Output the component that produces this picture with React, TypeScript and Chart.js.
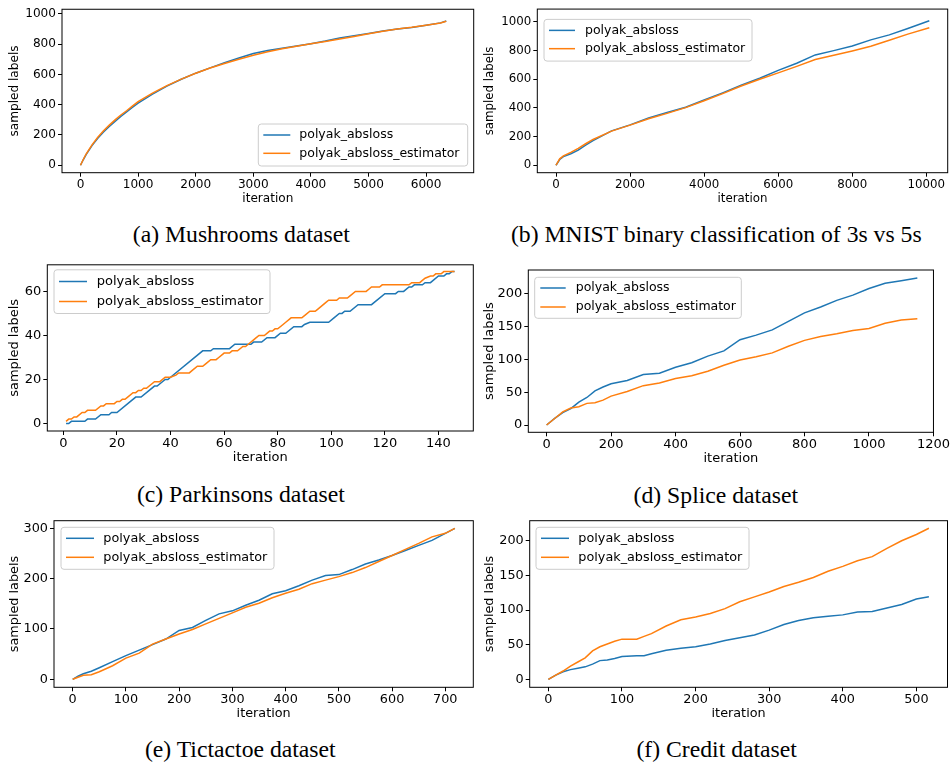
import React, { useEffect, useRef } from "react";
import { Chart, registerables } from "chart.js";
Chart.register(...registerables);
Chart.defaults.font.family = "'DejaVu Sans', sans-serif";
Chart.defaults.color = "#000";

const SERIES_NAMES = ["polyak_absloss", "polyak_absloss_estimator"];
const COLORS = ["#1f77b4", "#ff7f0e"];

// (a) Mushrooms
const mushX = [0, 50, 100, 200, 300, 400, 500, 600, 700, 800, 900, 1000, 1250, 1500, 1750, 2000, 2250, 2500, 2750, 3000, 3250, 3500, 3750, 4000, 4250, 4500, 4750, 5000, 5250, 5500, 5750, 6000, 6250, 6350];
const mushBlue = [0, 38, 72, 130, 178, 220, 256, 290, 322, 352, 382, 410, 470, 523, 568, 608, 643, 677, 708, 738, 758, 773, 788, 803, 820, 840, 856, 870, 886, 900, 910, 924, 940, 952];
const mushOrange = [0, 40, 76, 135, 185, 228, 265, 300, 332, 360, 390, 420, 476, 526, 569, 608, 642, 672, 700, 727, 750, 770, 786, 802, 817, 834, 850, 868, 885, 900, 911, 925, 940, 951];
const mushXTicks = [0, 1000, 2000, 3000, 4000, 5000, 6000];
const mushYTicks = [0, 200, 400, 600, 800, 1000];

// (b) MNIST
const mnistX = [0, 100, 200, 400, 600, 800, 1000, 1500, 2000, 2500, 3000, 3500, 4000, 4500, 5000, 5500, 6000, 6500, 7000, 7500, 8000, 8500, 9000, 9500, 10080];
const mnistBlue = [0, 40, 60, 80, 105, 140, 172, 240, 282, 330, 368, 405, 455, 505, 558, 607, 662, 712, 770, 800, 832, 875, 910, 955, 1008];
const mnistOrange = [0, 45, 65, 90, 118, 150, 180, 238, 280, 325, 362, 402, 450, 500, 553, 600, 645, 690, 738, 768, 798, 830, 872, 915, 960];
const mnistXTicks = [0, 2000, 4000, 6000, 8000, 10000];
const mnistYTicks = [0, 200, 400, 600, 800, 1000];

// (c) Parkinsons
const parkBlueX = [1, 2, 3, 8, 9, 12, 14, 17, 18, 20, 27, 29, 34, 35, 38, 39, 40, 52, 55, 56, 62, 64, 70, 71, 74, 76, 79, 81, 83, 86, 89, 90, 92, 99, 101, 103, 104, 105, 107, 110, 115, 120, 124, 125, 127, 129, 130, 131, 134, 135, 137, 140, 142, 143, 144, 145, 146];
const parkBlueY = [0, 0, 1, 1, 2, 2, 4, 4, 5, 5, 12, 12, 17, 17, 20, 20, 21, 33, 33, 34, 34, 36, 36, 37, 37, 39, 39, 41, 41, 44, 44, 45, 46, 46, 48, 50, 50, 51, 51, 54, 54, 59, 59, 60, 60, 62, 62, 63, 63, 64, 64, 67, 67, 68, 68, 69, 69];
const parkOrangeX = [1, 2, 3, 4, 5, 7, 8, 9, 12, 14, 15, 16, 19, 20, 21, 22, 23, 24, 26, 27, 28, 29, 30, 31, 34, 36, 38, 40, 42, 43, 47, 48, 50, 52, 53, 55, 57, 58, 60, 62, 63, 65, 67, 68, 69, 71, 72, 73, 75, 77, 78, 79, 80, 82, 83, 85, 89, 90, 92, 94, 95, 96, 98, 99, 102, 103, 106, 107, 109, 113, 114, 115, 118, 119, 129, 130, 133, 134, 135, 137, 138, 139, 141, 142, 146];
const parkOrangeY = [1, 2, 2, 3, 3, 5, 5, 6, 6, 8, 8, 9, 9, 10, 10, 11, 11, 12, 14, 14, 15, 15, 16, 16, 19, 19, 21, 21, 22, 23, 23, 24, 26, 26, 27, 29, 29, 30, 32, 32, 33, 33, 35, 35, 36, 38, 39, 40, 40, 42, 42, 43, 43, 45, 46, 48, 48, 49, 51, 51, 52, 53, 55, 56, 56, 57, 57, 58, 60, 60, 61, 62, 62, 63, 63, 64, 64, 65, 66, 67, 67, 68, 68, 69, 69];
const parkXTicks = [0, 20, 40, 60, 80, 100, 120, 140];
const parkYTicks = [0, 20, 40, 60];

// (d) Splice
const spliceX = [0, 25, 50, 75, 100, 125, 150, 175, 200, 250, 300, 350, 400, 450, 500, 550, 600, 650, 700, 750, 800, 850, 900, 950, 1000, 1050, 1100, 1150];
const spliceBlue = [0, 10, 19, 25, 35, 42, 52, 58, 63, 68, 77, 79, 88, 95, 105, 113, 130, 137, 145, 158, 171, 180, 190, 198, 208, 216, 220, 224];
const spliceOrange = [0, 10, 20, 26, 28, 33, 34, 38, 44, 51, 60, 64, 71, 75, 82, 91, 99, 104, 110, 120, 129, 135, 139, 144, 147, 155, 160, 162];
const spliceXTicks = [0, 200, 400, 600, 800, 1000, 1200];
const spliceYTicks = [0, 50, 100, 150, 200];

// (e) Tictactoe
const tttX = [0, 10, 20, 35, 50, 75, 100, 125, 150, 175, 200, 225, 250, 275, 300, 325, 350, 375, 400, 425, 450, 475, 500, 525, 550, 575, 600, 625, 650, 675, 700, 718];
const tttBlue = [0, 6, 11, 16, 23, 35, 47, 58, 69, 80, 97, 103, 117, 130, 136, 147, 157, 170, 176, 186, 197, 206, 208, 218, 229, 237, 246, 256, 266, 276, 290, 300];
const tttOrange = [0, 4, 8, 9, 15, 27, 42, 52, 70, 80, 90, 99, 110, 121, 132, 143, 151, 162, 171, 179, 190, 197, 204, 212, 222, 234, 246, 258, 270, 283, 290, 300];
const tttXTicks = [0, 100, 200, 300, 400, 500, 600, 700];
const tttYTicks = [0, 100, 200, 300];

// (f) Credit
const creditX = [0, 10, 20, 30, 40, 50, 60, 70, 80, 90, 100, 120, 130, 140, 160, 180, 200, 220, 240, 260, 280, 300, 320, 340, 360, 380, 400, 420, 440, 460, 480, 500, 517];
const creditBlue = [0, 6, 11, 14, 16, 18, 22, 27, 28, 30, 33, 34, 34, 37, 42, 45, 47, 51, 56, 60, 64, 71, 79, 85, 89, 91, 93, 97, 98, 103, 108, 116, 119];
const creditOrange = [0, 6, 12, 19, 25, 31, 41, 47, 51, 55, 58, 58, 62, 66, 77, 86, 90, 95, 102, 112, 119, 126, 134, 140, 147, 156, 163, 171, 177, 189, 200, 209, 218];
const creditXTicks = [0, 100, 200, 300, 400, 500];
const creditYTicks = [0, 50, 100, 150, 200];

const CAPTION_SIZE = 23.7;

type Panel = {
  caption: string;
  capX: number;
  capY: number;
  series: { x: number[]; y: number[] }[];
  xTicks: number[];
  yTicks: number[];
  xRange: [number, number];
  yRange: [number, number];
  canvas: { x: number; y: number; w: number; h: number };
  plot: { l: number; t: number; r: number; b: number };
  xTitleY: number;
  yTitleX: number;
  font: number;
  legendFont: number;
  legend: { loc: string; gx: number; gy: number; w: number; h: number; rows: number[]; l0: number; l1: number; tx: number };
};

const PANELS: Panel[] = [
  {
    caption: "(a) Mushrooms dataset", capX: 241.3, capY: 237.3,
    series: [{ x: mushX, y: mushBlue }, { x: mushX, y: mushOrange }],
    xTicks: mushXTicks, yTicks: mushYTicks, xRange: [-321, 6826], yRange: [-49, 1030],
    canvas: { x: 0, y: 0, w: 475, h: 212 }, plot: { l: 62, t: 4.7, r: 473.7, b: 172.7 },
    xTitleY: 199, yTitleX: 15, font: 12.1, legendFont: 12.5,
    legend: { loc: "lr", gx: 6, gy: 6.7, w: 209.4, h: 42, rows: [11, 29.3], l0: 5, l1: 32, tx: 41 },
  },
  {
    caption: "(b) MNIST binary classification of 3s vs 5s", capX: 716.3, capY: 237.3,
    series: [{ x: mnistX, y: mnistBlue }, { x: mnistX, y: mnistOrange }],
    xTicks: mnistXTicks, yTicks: mnistYTicks, xRange: [-505, 10577], yRange: [-52, 1090],
    canvas: { x: 475, y: 0, w: 476, h: 212 }, plot: { l: 537.3, t: 4.7, r: 947.7, b: 172.7 },
    xTitleY: 199, yTitleX: 490, font: 11.8, legendFont: 12.5,
    legend: { loc: "ul", gx: 6.7, gy: 10.3, w: 208, h: 41.7, rows: [11, 29.3], l0: 5, l1: 31, tx: 41 },
  },
  {
    caption: "(c) Parkinsons dataset", capX: 240.8, capY: 497.3,
    series: [{ x: parkBlueX, y: parkBlueY }, { x: parkOrangeX, y: parkOrangeY }],
    xTicks: parkXTicks, yTicks: parkYTicks, xRange: [-6, 153], yRange: [-3.4, 72.1],
    canvas: { x: 0, y: 255, w: 475, h: 215 }, plot: { l: 47.3, t: 262.3, r: 473.3, b: 431 },
    xTitleY: 457.3, yTitleX: 15, font: 13, legendFont: 13,
    legend: { loc: "ul", gx: 6.7, gy: 5, w: 216, h: 43.7, rows: [11.7, 31.7], l0: 5, l1: 33, tx: 42.7 },
  },
  {
    caption: "(d) Splice dataset", capX: 715.8, capY: 498,
    series: [{ x: spliceX, y: spliceBlue }, { x: spliceX, y: spliceOrange }],
    xTicks: spliceXTicks, yTicks: spliceYTicks, xRange: [-56.8, 1200], yRange: [-11.1, 236.3],
    canvas: { x: 475, y: 255, w: 476, h: 215 }, plot: { l: 528.3, t: 270, r: 935.5, b: 432.3 },
    xTitleY: 458.3, yTitleX: 490, font: 13, legendFont: 12.5,
    legend: { loc: "ul", gx: 6.4, gy: 7.3, w: 206.6, h: 41, rows: [10.7, 29.7], l0: 5.6, l1: 31, tx: 41 },
  },
  {
    caption: "(e) Tictactoe dataset", capX: 240.3, capY: 752.3,
    series: [{ x: tttX, y: tttBlue }, { x: tttX, y: tttOrange }],
    xTicks: tttXTicks, yTicks: tttYTicks, xRange: [-35.1, 752.6], yRange: [-15.9, 315.1],
    canvas: { x: 0, y: 510, w: 475, h: 215 }, plot: { l: 54, t: 520.7, r: 473.3, b: 687.3 },
    xTitleY: 714, yTitleX: 15, font: 12.8, legendFont: 12.8,
    legend: { loc: "ul", gx: 7, gy: 6.6, w: 213, h: 42, rows: [11, 30], l0: 5, l1: 33, tx: 42.3 },
  },
  {
    caption: "(f) Credit dataset", capX: 716.7, capY: 752.3,
    series: [{ x: creditX, y: creditBlue }, { x: creditX, y: creditOrange }],
    xTicks: creditXTicks, yTicks: creditYTicks, xRange: [-25.4, 542.3], yRange: [-11.5, 228.9],
    canvas: { x: 475, y: 510, w: 476, h: 215 }, plot: { l: 529.7, t: 520.7, r: 947.5, b: 687.3 },
    xTitleY: 714, yTitleX: 490, font: 12.8, legendFont: 12.8,
    legend: { loc: "ul", gx: 6.3, gy: 6.6, w: 213, h: 42, rows: [11, 30], l0: 5, l1: 33, tx: 42.3 },
  },
];

function PanelChart({ p }: { p: Panel }) {
  const ref = useRef<HTMLCanvasElement | null>(null);
  useEffect(() => {
    if (!ref.current) return;
    const lh = p.font * 1.2;
    const yScaleW = p.plot.l - p.canvas.x;
    const xScaleH = p.canvas.y + p.canvas.h - p.plot.b;
    const frame = {
      id: "frame",
      afterDatasetsDraw(chart: any) {
        const { ctx, chartArea } = chart;
        const { left, top, right, bottom } = chartArea;
        ctx.save();
        ctx.strokeStyle = "#000";
        ctx.lineWidth = 1;
        ctx.strokeRect(left, top, right - left, bottom - top);
        ctx.restore();
      },
    };
    const legend = {
      id: "customLegend",
      afterDraw(chart: any) {
        const { ctx, chartArea } = chart;
        const L = p.legend;
        const bx = L.loc === "lr" ? chartArea.right - L.gx - L.w : chartArea.left + L.gx;
        const by = L.loc === "lr" ? chartArea.bottom - L.gy - L.h : chartArea.top + L.gy;
        ctx.save();
        ctx.beginPath();
        if ((ctx as any).roundRect) (ctx as any).roundRect(bx, by, L.w, L.h, 3);
        else ctx.rect(bx, by, L.w, L.h);
        ctx.fillStyle = "rgba(255,255,255,0.8)";
        ctx.fill();
        ctx.strokeStyle = "#cccccc";
        ctx.lineWidth = 1;
        ctx.stroke();
        chart.data.datasets.forEach((ds: any, i: number) => {
          const y = by + L.rows[i];
          ctx.beginPath();
          ctx.moveTo(bx + L.l0, y);
          ctx.lineTo(bx + L.l1, y);
          ctx.strokeStyle = ds.borderColor;
          ctx.lineWidth = 1.5;
          ctx.stroke();
          ctx.fillStyle = "#000";
          ctx.font = `${p.legendFont}px 'DejaVu Sans', sans-serif`;
          ctx.textBaseline = "middle";
          ctx.textAlign = "left";
          ctx.fillText(ds.label, bx + L.tx, y);
        });
        ctx.restore();
      },
    };
    const chart = new Chart(ref.current, {
      type: "line",
      data: {
        datasets: p.series.map((s, i) => ({
          label: SERIES_NAMES[i],
          data: s.x.map((x, j) => ({ x, y: s.y[j] })),
          borderColor: COLORS[i],
          backgroundColor: COLORS[i],
          borderWidth: 1.5,
          pointRadius: 0,
          tension: 0,
          fill: false,
          order: i === 0 ? 1 : 0,
        })),
      },
      options: {
        animation: false,
        responsive: false,
        maintainAspectRatio: false,
        events: [],
        layout: {
          padding: {
            left: 0,
            top: p.plot.t - p.canvas.y,
            right: p.canvas.x + p.canvas.w - p.plot.r,
            bottom: 0,
          },
        },
        plugins: { legend: { display: false }, tooltip: { enabled: false } },
        scales: {
          x: {
            type: "linear",
            min: p.xRange[0],
            max: p.xRange[1],
            afterBuildTicks: (sc: any) => {
              sc.ticks = p.xTicks.map((v) => ({ value: v }));
            },
            afterFit: (sc: any) => {
              sc.height = xScaleH;
            },
            grid: { drawOnChartArea: false, drawTicks: true, tickLength: 4, tickColor: "#000", color: "#000" },
            border: { display: false },
            ticks: {
              autoSkip: false,
              maxRotation: 0,
              color: "#000",
              font: { size: p.font },
              padding: 1,
              callback: (v: any) => String(v),
            },
            title: {
              display: true,
              text: "iteration",
              color: "#000",
              font: { size: p.font },
              padding: { top: 0, bottom: p.canvas.y + p.canvas.h - p.xTitleY - lh / 2 },
            },
          },
          y: {
            type: "linear",
            min: p.yRange[0],
            max: p.yRange[1],
            afterBuildTicks: (sc: any) => {
              sc.ticks = p.yTicks.map((v) => ({ value: v }));
            },
            afterFit: (sc: any) => {
              sc.width = yScaleW;
            },
            grid: { drawOnChartArea: false, drawTicks: true, tickLength: 4, tickColor: "#000", color: "#000" },
            border: { display: false },
            ticks: {
              autoSkip: false,
              color: "#000",
              font: { size: p.font },
              padding: 2,
              callback: (v: any) => String(v),
            },
            title: {
              display: true,
              text: "sampled labels",
              color: "#000",
              font: { size: p.font },
              padding: { top: p.yTitleX - p.canvas.x - lh / 2, bottom: 0 },
            },
          },
        },
      } as any,
      plugins: [frame, legend],
    });
    return () => chart.destroy();
  }, [p]);
  return (
    <canvas
      ref={ref}
      width={p.canvas.w}
      height={p.canvas.h}
      style={{ position: "absolute", left: p.canvas.x, top: p.canvas.y, width: p.canvas.w, height: p.canvas.h }}
    />
  );
}

export default function App() {
  return (
    <div style={{ position: "absolute", left: 0, top: 0, width: 951, height: 767, background: "#fff", overflow: "hidden" }}>
      {PANELS.map((p, i) => (
        <React.Fragment key={i}>
          <PanelChart p={p} />
          <div
            style={{
              position: "absolute",
              left: p.capX - 300,
              width: 600,
              top: p.capY - CAPTION_SIZE * 0.6075,
              textAlign: "center",
              fontFamily: "'Liberation Serif', 'Times New Roman', serif",
              fontSize: CAPTION_SIZE,
              lineHeight: `${CAPTION_SIZE}px`,
              color: "#000",
              whiteSpace: "nowrap",
            }}
          >
            {p.caption}
          </div>
        </React.Fragment>
      ))}
    </div>
  );
}
